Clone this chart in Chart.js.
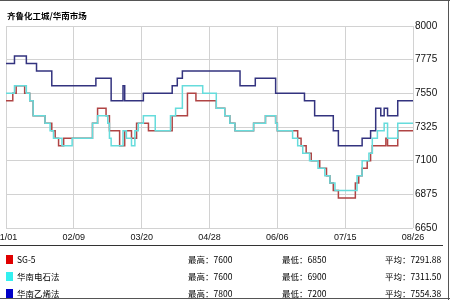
<!DOCTYPE html>
<html>
<head>
<meta charset="utf-8">
<script src="https://cdn.jsdelivr.net/npm/chart.js@4.4.1/dist/chart.umd.min.js"></script>
<style>
  body { margin: 0; background: #fff; }
  #wrap { position: relative; width: 450px; height: 300px; overflow: hidden; font-family: "Noto Sans CJK SC", sans-serif; color: #000; }
  #myChart { position: absolute; left: 0; top: 0; }
  #title { position: absolute; left: 7px; top: 9px; font-size: 8.5px; line-height: 12px; font-weight: bold; }
  .line { position: absolute; background: #555; }
  .row { position: absolute; left: 0; width: 450px; height: 14px; font-size: 8.5px; line-height: 14px; }
  .row span { position: absolute; top: 0; }
  .sw { position: absolute; left: 6px; top: 3px; width: 7px; height: 9px; }
</style>
</head>
<body>
<div id="wrap">
  <canvas id="myChart" width="450" height="245"></canvas>
  <div id="title">齐鲁化工城/华南市场</div>
  <div class="line" style="left:0;top:0;width:450px;height:1px"></div>
  <div class="line" style="left:448px;top:0;width:1px;height:300px"></div>
  <div class="line" style="left:0;top:298px;width:450px;height:1px"></div>
  <div class="line" style="left:0;top:245px;width:443px;height:1px;background:#333"></div>
  <div id="legend"></div>
</div>
<script>
const ctx = document.getElementById('myChart');

// x = days from 01/01, value changes at that day (step line)
const dateLabels = ['01/01', '02/09', '03/20', '04/28', '06/06', '07/15', '08/26'];
const tickDays = [0, 40, 80, 120, 160, 200, 240];
const yTicks = [6650, 6875, 7100, 7325, 7550, 7775, 8000];

const seriesNames = ['SG-5', '华南电石法', '华南乙烯法'];
const maxVals = ['7600', '7600', '7800'];
const minVals = ['6850', '6900', '7200'];
const avgVals = ['7291.88', '7311.50', '7554.38'];

const sgDays = [0, 4, 6, 11, 14, 16, 23, 27, 29, 31, 34, 51, 54, 59, 61, 67, 70, 74, 77, 84, 98, 107, 112, 124, 129, 132, 135, 146, 153, 159, 160, 172, 174, 177, 180, 185, 189, 191, 193, 196, 206, 208, 210, 213, 215, 216, 224, 225, 231, 240];
const sgPrice = [7500, 7550, 7600, 7550, 7500, 7400, 7350, 7300, 7250, 7200, 7250, 7350, 7450, 7400, 7300, 7200, 7300, 7250, 7350, 7300, 7400, 7550, 7500, 7450, 7400, 7350, 7300, 7350, 7400, 7350, 7300, 7250, 7200, 7150, 7100, 7050, 7000, 6950, 6900, 6850, 6950, 7000, 7050, 7100, 7150, 7200, 7250, 7200, 7300, 7300];

const dsDays = [0, 5, 12, 14, 16, 23, 26, 28, 33, 39, 51, 54, 60, 61, 62, 69, 71, 74, 76, 78, 81, 88, 97, 100, 104, 116, 124, 129, 132, 135, 146, 153, 159, 160, 169, 172, 175, 179, 184, 188, 191, 194, 207, 210, 214, 216, 219, 223, 225, 231, 240];
const dsPrice = [7550, 7600, 7550, 7500, 7400, 7350, 7300, 7250, 7200, 7250, 7350, 7400, 7350, 7250, 7200, 7300, 7250, 7200, 7300, 7350, 7400, 7300, 7400, 7450, 7600, 7550, 7450, 7400, 7350, 7300, 7350, 7400, 7350, 7300, 7250, 7200, 7150, 7100, 7050, 7000, 6950, 6900, 7000, 7100, 7150, 7250, 7300, 7350, 7250, 7350, 7350];

const yxDays = [0, 5, 12, 18, 27, 53, 62, 69, 70, 81, 98, 101, 104, 138, 147, 159, 176, 182, 193, 196, 210, 215, 218, 221, 223, 225, 231, 240];
const yxPrice = [7750, 7800, 7750, 7700, 7600, 7650, 7500, 7600, 7500, 7550, 7600, 7650, 7700, 7600, 7650, 7550, 7500, 7400, 7300, 7200, 7250, 7300, 7450, 7400, 7450, 7400, 7500, 7500];

const lineColors = ['#b04444', '#66dcdc', '#33337f'];
const swatchColors = ['#e00000', '#33f0f0', '#0000c8'];

function pts(days, vals) {
  return days.map((d, i) => ({ x: d, y: vals[i] }));
}

const axisFamily = 'Liberation Sans, Arial, sans-serif';

new Chart(ctx, {
  type: 'line',
  data: {
    datasets: [
      { label: seriesNames[0], data: pts(sgDays, sgPrice), borderColor: lineColors[0], order: 1 },
      { label: seriesNames[1], data: pts(dsDays, dsPrice), borderColor: lineColors[1], order: 0 },
      { label: seriesNames[2], data: pts(yxDays, yxPrice), borderColor: lineColors[2], order: 2 }
    ]
  },
  options: {
    responsive: false,
    animation: false,
    elements: {
      line: { stepped: true, borderWidth: 1.5, fill: false },
      point: { radius: 0 }
    },
    layout: { padding: { left: 6, top: 26, right: 0, bottom: 0 } },
    plugins: {
      legend: { display: false },
      tooltip: { enabled: false }
    },
    scales: {
      x: {
        type: 'linear',
        min: 0,
        max: 240,
        afterBuildTicks: s => { s.ticks = tickDays.map(v => ({ value: v })); },
        afterFit: s => { s.height = 17; s.paddingLeft = 0; s.paddingRight = 0; },
        grid: { color: '#d2d2d2', drawTicks: false },
        border: { display: false },
        ticks: {
          padding: 4,
          maxRotation: 0,
          autoSkip: false,
          color: '#111',
          font: { family: axisFamily, size: 9 },
          callback: (v, i) => dateLabels[i]
        }
      },
      y: {
        position: 'right',
        min: 6650,
        max: 8000,
        afterBuildTicks: s => { s.ticks = yTicks.map(v => ({ value: v })); },
        afterFit: s => { s.width = 37; s.paddingTop = 0; s.paddingBottom = 0; },
        grid: { color: '#d2d2d2', drawTicks: false },
        border: { display: false },
        ticks: {
          padding: 2,
          color: '#111',
          font: { family: axisFamily, size: 10 },
          callback: v => String(v)
        }
      }
    }
  }
});

// legend table with stats
const legend = document.getElementById('legend');
const rowTops = [252, 269, 286];
seriesNames.forEach((name, i) => {
  const row = document.createElement('div');
  row.className = 'row';
  row.style.top = rowTops[i] + 'px';
  row.innerHTML =
    '<div class="sw" style="background:' + swatchColors[i] + '"></div>' +
    '<span style="left:17px">' + name + '</span>' +
    '<span style="left:188px">最高：' + maxVals[i] + '</span>' +
    '<span style="left:282px">最低：' + minVals[i] + '</span>' +
    '<span style="left:385px">平均：' + avgVals[i] + '</span>';
  legend.appendChild(row);
});
</script>
</body>
</html>
